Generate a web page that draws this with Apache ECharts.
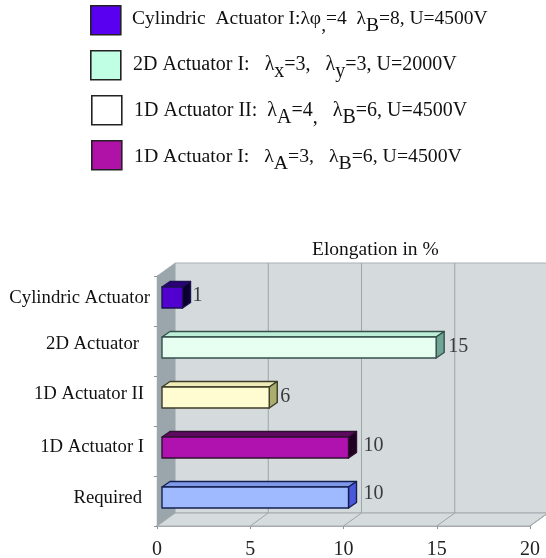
<!DOCTYPE html>
<html><head><meta charset="utf-8">
<style>html,body{margin:0;padding:0;background:#fff}#c{width:546px;height:558px}</style>
<script src="https://cdn.jsdelivr.net/npm/echarts@6/dist/echarts.min.js"></script>
</head><body><div id="c"></div>
<script>
const categories = ['Cylindric Actuator','2D Actuator','1D Actuator II','1D Actuator I','Required'];
const elongation = [1.1, 14.7, 5.75, 10, 10];
const xTicks = [0, 5, 10, 15, 20];
const axisTitle = 'Elongation in %';
const legendRows = [
  '{n|Cylindric  Actuator I:λφ}{s|,}{n|=4  λ}{s|B}{n|=8, U=4500V}',
  '{n|2D Actuator I:   λ}{s|x}{n|=3,   λ}{s|y}{n|=3, U=2000V}',
  '{n|1D Actuator II:  λ}{s|A}{n|=4}{s|,}{n|   λ}{s|B}{n|=6, U=4500V}',
  '{n|1D Actuator I:   λ}{s|A}{n|=3,   λ}{s|B}{n|=6, U=4500V}'
];
const FONT = '"Liberation Serif"';
const barStyles = [
  {front:'#5200d0',top:'#2c0078',side:'#0a0030',edge:'#1c1050'},
  {front:'#e6fff1',top:'#bdeed8',side:'#6fa594',edge:'#34504a'},
  {front:'#fffcd2',top:'#f0ecb8',side:'#a9ad6e',edge:'#3c3c28'},
  {front:'#b012b0',top:'#5e0a60',side:'#200020',edge:'#301030'},
  {front:'#a0baff',top:'#8098e8',side:'#4a58dc',edge:'#142050'}
];
const swatchColors = ['#5a00f0','#c0ffe4','#ffffff','#b012a8'];
const swatchY = [5, 50, 95, 140];
const textY = [20, 66, 112, 158];
const legendFont = [19.5, 20, 20, 19.8];
const catLabelGap = [7, 18, 13, 13, 15];    // px left of the axis
const catLabelRise = [3, 6.5, 6.5, 4, 3];   // px above the band centre
const valShift = [[-3,0],[-1,1],[-2,1],[2,0],[2,-2]];
const DX = 18, DY = 13;        // chart depth
const BX0 = 5, BY0 = 3.5, BX1 = 13, BY1 = 9, BH = 21; // bar depth

const chart = echarts.init(document.getElementById('c'), null, {renderer:'canvas'});

function wall(params, api) {
  const cs = params.coordSys;
  const L = cs.x, T = cs.y, B = cs.y + cs.height, R = cs.x + cs.width;
  const kids = [
    {type:'polygon',shape:{points:[[L+DX,T-DY],[R+DX,T-DY],[R+DX,B-DY],[L+DX,B-DY]]},style:{fill:'#d5dadd',stroke:'#aab1b5',lineWidth:1}},
    {type:'polygon',shape:{points:[[L,B],[L+DX,B-DY],[R+DX,B-DY],[R,B]]},style:{fill:'#d6dbde',stroke:'#a3aaae',lineWidth:1}},
    {type:'polygon',shape:{points:[[L,T],[L+DX,T-DY],[L+DX,B-DY],[L,B]]},style:{fill:'#9aa6ac',stroke:'#a3aaae',lineWidth:0.5}}
  ];
  xTicks.forEach(v => {
    const x = api.coord([v, 0])[0];
    if (v > 0 && v < 20) kids.push({type:'line',shape:{x1:x+DX,y1:T-DY,x2:x+DX,y2:B-DY},style:{stroke:'#9da5a9',lineWidth:1}});
    if (v > 0) kids.push({type:'line',shape:{x1:x,y1:B,x2:x+DX,y2:B-DY},style:{stroke:'#9da5a9',lineWidth:1}});
  });
  return {type:'group',children:kids};
}

function bar(params, api) {
  const i = api.value(1), v = api.value(0);
  const s = barStyles[i];
  const c0 = api.coord([0, i]), c1 = api.coord([v, i]);
  const x0 = c0[0] + BX0, x1 = c1[0] + BX0;
  const bot = c0[1] - BY0 + BH/2, top = bot - BH;
  const ex = BX1 - BX0, ey = BY1 - BY0;
  const st = (fill) => ({fill, stroke:s.edge, lineWidth:1.4, lineJoin:'round'});
  return {type:'group',children:[
    {type:'polygon',shape:{points:[[x0,top],[x0+ex,top-ey],[x1+ex,top-ey],[x1,top]]},style:st(s.top)},
    {type:'polygon',shape:{points:[[x1,top],[x1+ex,top-ey],[x1+ex,bot-ey],[x1,bot]]},style:st(s.side)},
    {type:'rect',shape:{x:x0,y:top,width:x1-x0,height:BH},style:st(s.front)},
    {type:'text',x:x1+ex+5+valShift[i][0],y:(top+bot)/2-2+valShift[i][1],style:{text:String(Math.round(v)),font:'20px '+FONT,fill:'#3a3a3a',textAlign:'left',textVerticalAlign:'middle'}},
    {type:'text',x:c0[0]-catLabelGap[i],y:c0[1]-catLabelRise[i],style:{text:categories[i],font:'18.7px '+FONT,fill:'#111',textAlign:'right',textVerticalAlign:'middle'}}
  ]};
}

const legendGraphics = [];
legendRows.forEach((t, i) => {
  const f = legendFont[i] + 'px ' + FONT;
  legendGraphics.push({type:'rect',left:90+(i>1?1:0),top:swatchY[i],shape:{width:30,height:29},style:{fill:swatchColors[i],stroke:'#222',lineWidth:1.6}});
  legendGraphics.push({type:'text',left:132+(i>0?1:0)+(i>1?1:0),top:textY[i]-12,style:{text:t,rich:{
    n:{font:f,fill:'#111',verticalAlign:'top',lineHeight:22,height:22},
    s:{font:f,fill:'#111',verticalAlign:'top',lineHeight:22,height:22,padding:[7,0,0,0]}
  }}});
});

chart.setOption({
  animation:false,
  backgroundColor:'#fff',
  grid:{left:157,right:16,top:276,bottom:32,containLabel:false,outerBoundsMode:'none'},
  xAxis:{type:'value',min:0,max:20,interval:5,
    axisLine:{show:true,lineStyle:{color:'#8b9296',width:1.5}},
    axisTick:{show:true,length:3,lineStyle:{color:'#8b9296'}},
    splitLine:{show:false},
    axisLabel:{color:'#222',fontFamily:FONT,fontSize:20,margin:14,hideOverlap:false,showMaxLabel:true,showMinLabel:true}
  },
  yAxis:{type:'category',inverse:true,data:categories,
    axisLine:{show:true,lineStyle:{color:'#8b9296',width:1}},
    axisTick:{show:true,length:3,alignWithLabel:false,lineStyle:{color:'#8b9296'}},
    axisLabel:{show:false}
  },
  series:[
    {type:'custom',name:'wall',coordinateSystem:'cartesian2d',silent:true,z:1,data:[[0,0]],encode:{x:0,y:1},renderItem:wall},
    {type:'custom',name:'Elongation',coordinateSystem:'cartesian2d',silent:true,z:3,encode:{x:0,y:1},
      data:elongation.map((v,i)=>[v,i]),renderItem:bar}
  ],
  graphic:legendGraphics.concat([
    {type:'text',left:312,top:240,style:{text:axisTitle,font:'19.5px '+FONT,fill:'#111'}}
  ])
});
</script></body></html>
